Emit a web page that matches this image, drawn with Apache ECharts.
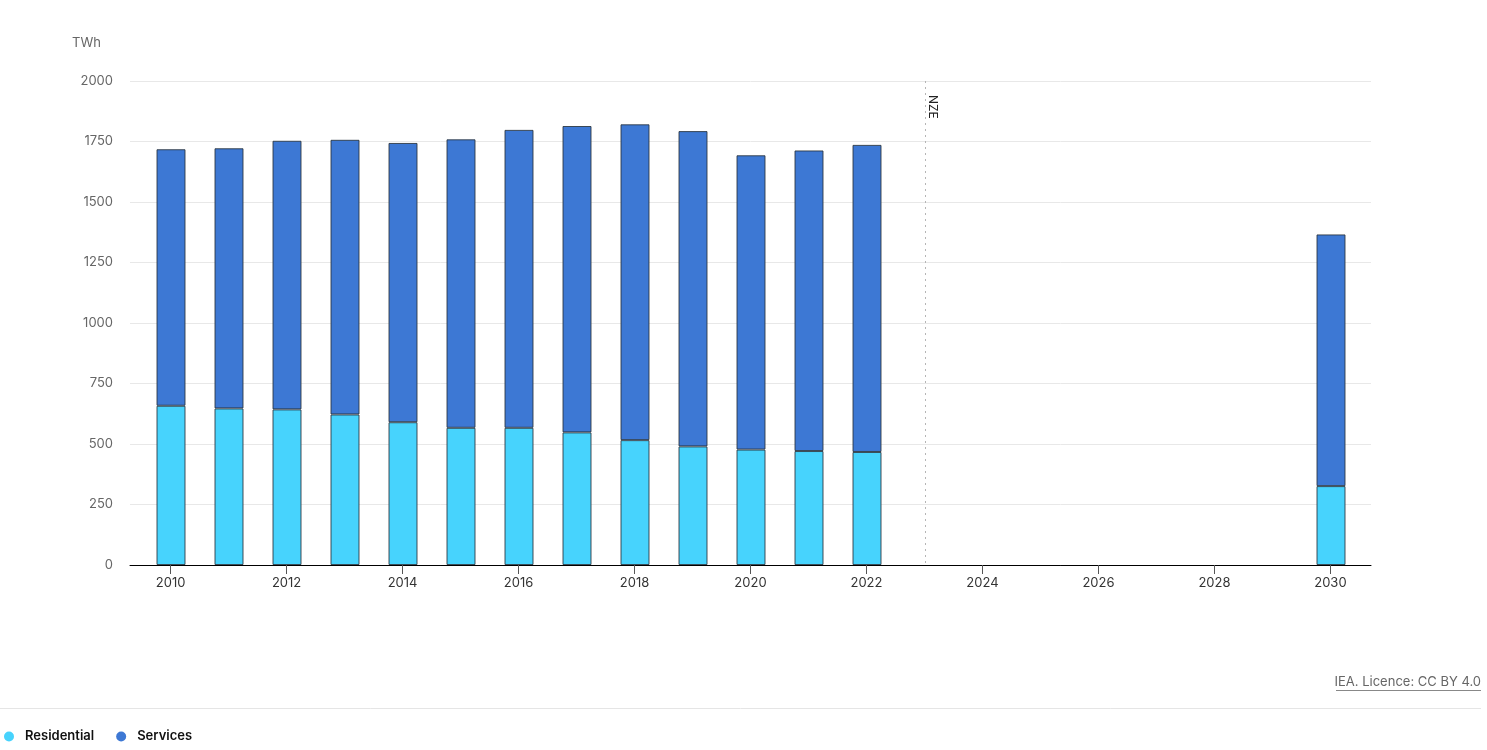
<!DOCTYPE html>
<html>
<head>
<meta charset="utf-8">
<script src="https://cdn.jsdelivr.net/npm/echarts@6/dist/echarts.min.js"></script>
<style>
html,body{margin:0;padding:0;background:#fff;}
#chart{width:1487px;height:750px;}
</style>
</head>
<body>
<div id="chart"></div>
<script>
const years = [2010, 2011, 2012, 2013, 2014, 2015, 2016, 2017, 2018, 2019, 2020, 2021, 2022, 2030];
const residential = [658, 647, 643, 622, 590, 567, 567, 548, 516, 490, 477, 471, 467, 326];
const services = [1060, 1075, 1110, 1135, 1154, 1192, 1231, 1266, 1305, 1303, 1216, 1242, 1269, 1040];
const xTickLabels = [2010, 2012, 2014, 2016, 2018, 2020, 2022, 2024, 2026, 2028, 2030];
const yTicks = [0, 250, 500, 750, 1000, 1250, 1500, 1750, 2000];
const nzeYear = 2023;

// full yearly category list for the bar grid
const allYears = [];
for (let y = xTickLabels[0]; y <= xTickLabels[xTickLabels.length - 1]; y++) allYears.push(String(y));
const toCat = arr => allYears.map(c => { const i = years.indexOf(+c); return i < 0 ? null : arr[i]; });

const FONT = 'Inter, "Noto Sans", sans-serif';
const chart = echarts.init(document.getElementById('chart'), null, {renderer: 'canvas'});

const barBorder = {borderColor: 'rgba(40,50,60,0.85)', borderWidth: 1};

chart.setOption({
  animation: false,
  textStyle: {fontFamily: FONT},
  grid: [
    {left: 130, right: 116, top: 81, bottom: 185},
    {left: 142, right: 127, top: 81, bottom: 185}
  ],
  xAxis: [
    {
      gridIndex: 0,
      type: 'value',
      min: 2009.3,
      max: 2030.7,
      splitLine: {show: false},
      axisLine: {show: true, lineStyle: {color: '#000', width: 1}},
      axisTick: {show: true, customValues: xTickLabels, length: 9, lineStyle: {color: '#555'}},
      axisLabel: {customValues: xTickLabels, color: '#333', fontSize: 13, margin: 12, fontFamily: FONT,
        formatter: v => String(v)}
    },
    {
      gridIndex: 1,
      type: 'category',
      data: allYears,
      boundaryGap: true,
      show: false
    }
  ],
  yAxis: [
    {
      gridIndex: 0,
      type: 'value',
      min: yTicks[0],
      max: yTicks[yTicks.length - 1],
      interval: 250,
      axisLine: {show: false},
      axisTick: {show: false},
      splitLine: {lineStyle: {color: '#e8e8e8', width: 1}},
      axisLabel: {color: '#666', fontSize: 13, margin: 17, fontFamily: FONT, formatter: v => String(v)}
    },
    {
      gridIndex: 1,
      type: 'value',
      min: yTicks[0],
      max: yTicks[yTicks.length - 1],
      interval: 250,
      show: false,
      splitLine: {show: false}
    }
  ],
  legend: {
    left: 4, top: 730, padding: 0,
    icon: 'circle', itemWidth: 10, itemHeight: 10, itemGap: 22,
    itemStyle: {borderWidth: 0},
    textStyle: {color: '#111', fontSize: 13, fontWeight: 600, fontFamily: FONT, padding: [0, 0, 0, 6]},
    data: ['Residential', 'Services']
  },
  graphic: [
    {type: 'text', left: 72, top: 37, style: {text: 'TWh', fill: '#666', font: '13px ' + FONT}},
    {type: 'line', shape: {x1: 0, y1: 708.5, x2: 1481, y2: 708.5}, style: {stroke: '#e5e5e5', lineWidth: 1}},
    {type: 'text', right: 6, top: 676, style: {text: 'IEA. Licence: CC BY 4.0', fill: '#666', font: '13px ' + FONT}},
    {type: 'line', shape: {x1: 1336, y1: 690.5, x2: 1481, y2: 690.5}, style: {stroke: '#888', lineWidth: 1}}
  ],
  series: [
    {
      name: 'Residential', type: 'bar', stack: 'total', barWidth: 29,
      xAxisIndex: 1, yAxisIndex: 1,
      itemStyle: Object.assign({color: '#47d3fd'}, barBorder),
      data: toCat(residential),
      markLine: {
        silent: true, symbol: 'none',
        lineStyle: {type: [2, 4], color: '#b5b5b5', width: 1},
        label: {show: true, formatter: 'NZE', position: 'insideStartTop', color: '#222', fontSize: 12, fontFamily: FONT, distance: 2, padding: [0, 0, 0, 12]},
        data: [[{coord: [String(nzeYear), 2000]}, {coord: [String(nzeYear), 0]}]]
      }
    },
    {
      name: 'Services', type: 'bar', stack: 'total', barWidth: 29,
      xAxisIndex: 1, yAxisIndex: 1,
      itemStyle: Object.assign({color: '#3d78d4'}, barBorder),
      data: toCat(services)
    }
  ]
});
</script>
</body>
</html>
